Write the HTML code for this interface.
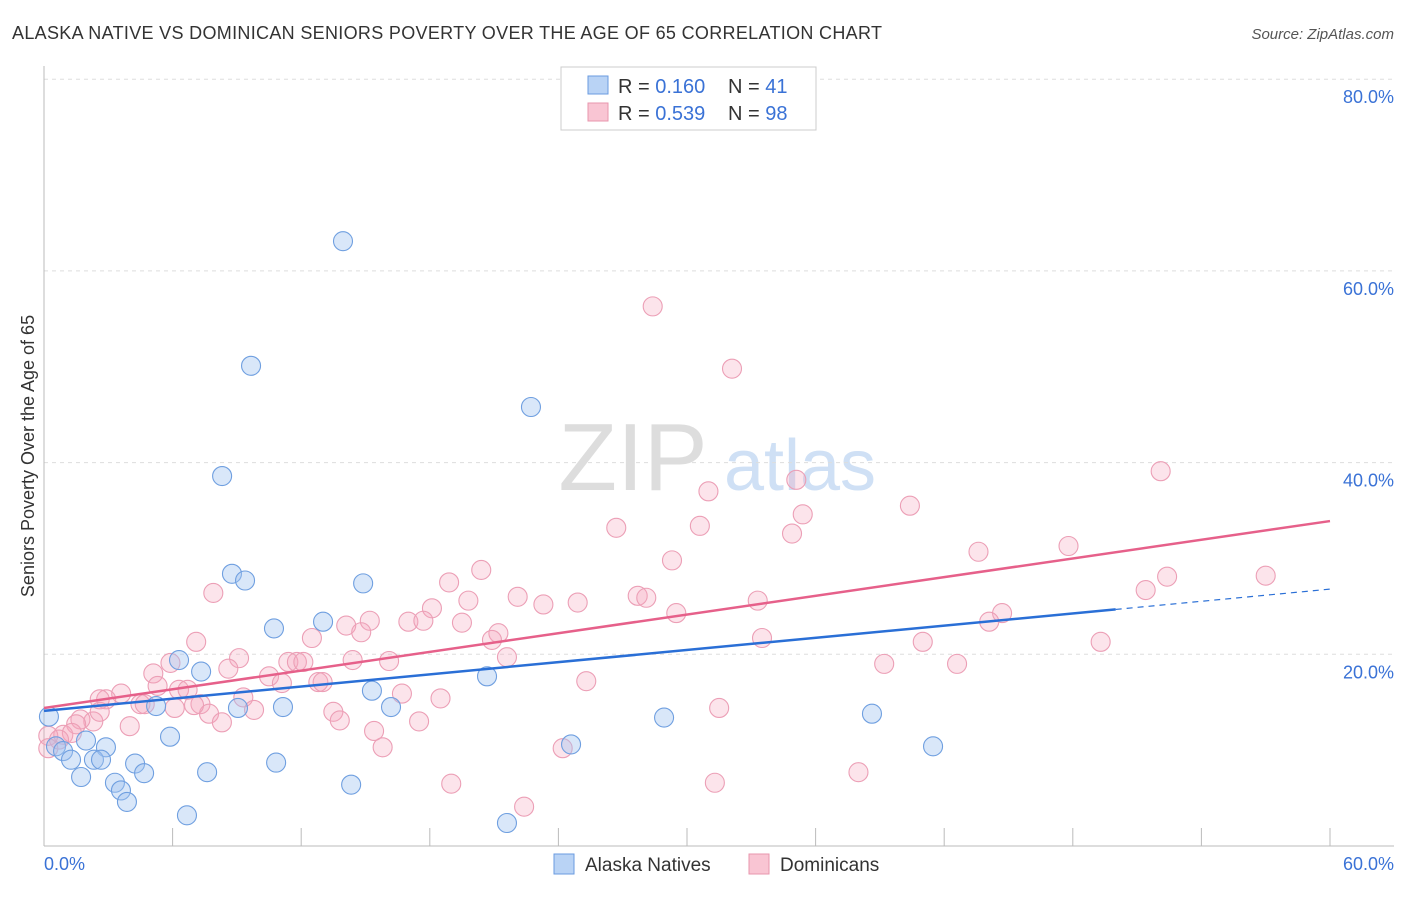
<!DOCTYPE html>
<html><head><meta charset="utf-8"><style>
body{margin:0;background:#fff;font-family:"Liberation Sans",sans-serif;}
svg text{font-family:"Liberation Sans",sans-serif;}
</style></head><body>
<svg id="chart" width="1406" height="892">
<text x="12" y="39" font-size="18" fill="#333" textLength="870" lengthAdjust="spacing">ALASKA NATIVE VS DOMINICAN SENIORS POVERTY OVER THE AGE OF 65 CORRELATION CHART</text>
<text x="1394" y="39" font-size="15" fill="#555" text-anchor="end" font-style="italic">Source: ZipAtlas.com</text>
<text x="633" y="490" font-size="96" fill="#ddd" font-family="Liberation Serif" text-anchor="middle">ZIP</text>
<text x="800" y="490" font-size="72" fill="#cfe0f5" text-anchor="middle">atlas</text>
<g id="grid"></g><g id="axes"></g><g id="pts"></g><g id="trend"></g>
<text transform="translate(34,456) rotate(-90)" font-size="18" fill="#333" text-anchor="middle">Seniors Poverty Over the Age of 65</text>
<text x="44" y="870" font-size="18" fill="#3a72d6">0.0%</text>
<text x="1394" y="870" font-size="18" fill="#3a72d6" text-anchor="end">60.0%</text>
<g>
<rect x="561" y="67" width="255" height="63" fill="#fff" stroke="#ccc"/>
<rect x="588" y="76" width="20" height="18" fill="#b9d3f5" stroke="#6a9be0"/>
<rect x="588" y="103" width="20" height="18" fill="#f9c5d3" stroke="#e896ae"/>
<text x="618" y="93" font-size="20" fill="#333">R = <tspan fill="#3a72d6">0.160</tspan><tspan x="728">N = </tspan><tspan fill="#3a72d6">41</tspan></text>
<text x="618" y="120" font-size="20" fill="#333">R = <tspan fill="#3a72d6">0.539</tspan><tspan x="728">N = </tspan><tspan fill="#3a72d6">98</tspan></text>
</g>
<g>
<rect x="554" y="854" width="20" height="20" fill="#b9d3f5" stroke="#6a9be0"/>
<text x="585" y="871" font-size="19" fill="#333">Alaska Natives</text>
<rect x="749" y="854" width="20" height="20" fill="#f9c5d3" stroke="#e896ae"/>
<text x="780" y="871" font-size="19" fill="#333">Dominicans</text>
</g>
</svg>
<script>
const yTicks=[20,40,60,80];
const yTickLabels=["20.0%","40.0%","60.0%","80.0%"];
const xTicks=[0,6,12,18,24,30,36,42,48,54,60];
const blueX=[13.95,9.66,22.72,8.31,8.77,9.38,14.89,10.73,13.02,6.30,7.33,20.67,15.30,5.23,9.05,11.15,16.19,28.93,38.63,41.48,24.59,0.23,0.56,0.89,1.26,1.96,2.89,2.33,2.66,5.88,4.25,4.67,7.61,10.83,1.73,3.31,3.59,3.87,14.33,6.67,21.60];
const blueY=[63.1,50.1,45.8,38.6,28.4,27.7,27.4,22.7,23.4,19.4,18.2,17.7,16.2,14.6,14.4,14.5,14.5,13.4,13.8,10.4,10.6,13.5,10.4,9.9,9.0,11.0,10.3,9.0,9.0,11.4,8.6,7.6,7.7,8.7,7.2,6.6,5.8,4.6,6.4,3.2,2.4];
const pinkX=[28.4,32.1,52.1,35.1,31.0,40.4,35.4,26.7,30.6,34.9,29.3,43.6,47.8,20.4,52.4,57.0,51.4,18.9,7.9,22.1,19.8,23.3,24.9,27.7,28.1,33.3,18.1,15.2,17.0,17.7,19.5,14.1,29.5,44.7,44.1,14.8,7.1,21.2,20.9,12.5,33.5,41.0,49.3,9.1,14.4,21.6,16.1,11.4,11.8,12.1,39.2,42.6,5.1,10.5,8.6,5.9,12.8,13.0,11.1,25.3,5.3,6.3,6.7,9.3,3.6,2.9,2.6,4.5,4.7,7.3,16.7,18.5,7.7,9.8,13.5,13.8,8.3,2.3,1.7,1.5,4.0,17.5,31.5,15.4,0.9,1.3,0.2,0.7,15.8,24.2,0.2,38.0,31.3,19.0,22.4,7.0,2.6,6.1];
const pinkY=[56.3,49.8,39.1,38.2,37.0,35.5,34.6,33.2,33.4,32.6,29.8,30.7,31.3,28.8,28.1,28.2,26.7,27.5,26.4,26.0,25.6,25.2,25.4,26.1,25.9,25.6,24.8,23.5,23.4,23.5,23.3,23.0,24.3,24.3,23.4,22.3,21.3,22.2,21.5,21.7,21.7,21.3,21.3,19.6,19.4,19.7,19.3,19.2,19.2,19.2,19.0,19.0,18.0,17.7,18.5,19.1,17.1,17.1,17.0,17.2,16.7,16.3,16.3,15.5,15.9,15.3,15.3,14.8,14.8,14.8,15.9,15.4,13.8,14.2,14.0,13.1,12.9,13.0,13.2,12.7,12.5,13.0,14.4,12.0,11.6,11.8,11.5,11.1,10.3,10.2,10.2,7.7,6.6,6.5,4.1,14.7,14.0,14.4];
const blueTrend=[14.1,26.8]; const blueSolidEnd=50;
const pinkTrend=[14.4,33.9];
const NS="http://www.w3.org/2000/svg";
const X=v=>44+v/60*1286, Y=v=>846-v*9.585;
function mk(t,a,p){const e=document.createElementNS(NS,t);for(const k in a)e.setAttribute(k,a[k]);p.appendChild(e);return e;}
const grid=document.getElementById('grid'),axes=document.getElementById('axes'),pts=document.getElementById('pts'),tr=document.getElementById('trend');
yTicks.forEach((v,i)=>{
 const l=mk('line',{x1:44,x2:1394,y1:Y(v),y2:Y(v),stroke:'#ddd','stroke-dasharray':'4,4'},grid);
 
 
 const t=mk('text',{x:1394,y:Y(v)+24,'font-size':18,fill:'#3a72d6','text-anchor':'end'},grid);t.textContent=yTickLabels[i];
 
 
});
const xa=mk('line',{x1:44,x2:1394,y1:846,y2:846,stroke:'#bbb'},axes);


const ya=mk('line',{x1:44,x2:44,y1:66,y2:846,stroke:'#bbb'},axes);


xTicks.forEach(v=>{const t=mk('line',{x1:X(v),x2:X(v),y1:828,y2:846,stroke:'#bbb'},axes);
 
 });
function dots(xs,ys,fill,stroke,name){xs.forEach((x,i)=>{const c=mk('circle',{cx:X(x),cy:Y(ys[i]),r:9.5,fill:fill,stroke:stroke,'stroke-width':1.1},pts);
 
 });}
dots(pinkX,pinkY,'rgba(245,165,190,0.3)','#ec9fb6','dominican-point');
dots(blueX,blueY,'rgba(160,195,240,0.4)','#6f9fe0','alaska-native-point');
const bAt=x=>blueTrend[0]+(blueTrend[1]-blueTrend[0])*x/60;
const b1=mk('line',{x1:X(0),y1:Y(bAt(0)),x2:X(blueSolidEnd),y2:Y(bAt(blueSolidEnd)),stroke:'#2a6fd6','stroke-width':2.5},tr);


const b2=mk('line',{x1:X(blueSolidEnd),y1:Y(bAt(blueSolidEnd)),x2:X(60),y2:Y(bAt(60)),stroke:'#2a6fd6','stroke-width':1.2,'stroke-dasharray':'6,5'},tr);


const p1=mk('line',{x1:X(0),y1:Y(pinkTrend[0]),x2:X(60),y2:Y(pinkTrend[1]),stroke:'#e6608a','stroke-width':2.5},tr);


</script>
</body></html>
